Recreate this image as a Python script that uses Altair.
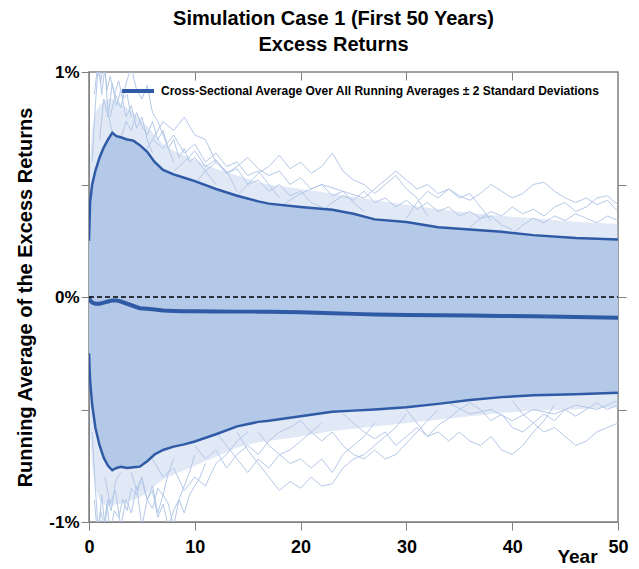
import altair as alt
import pandas as pd

# ---------------- data (values in %) ----------------
env_years = [0, 0.1, 0.3, 0.6, 1.0, 1.4, 1.8, 2.2, 2.6, 3.0, 3.6, 4.2, 4.8, 5.5, 6.2,
             7.0, 8.0, 9.0, 10, 12, 14, 16, 17, 20, 23, 25, 27, 30, 33, 36, 39, 42, 46, 50]
upper_sd = [0.25, 0.42, 0.50, 0.56, 0.62, 0.665, 0.70, 0.73, 0.715, 0.71, 0.70, 0.695, 0.675,
            0.645, 0.60, 0.565, 0.545, 0.53, 0.515, 0.48, 0.45, 0.425, 0.415, 0.40, 0.388,
            0.37, 0.345, 0.333, 0.31, 0.30, 0.29, 0.275, 0.262, 0.255]
lower_sd = [-0.25, -0.37, -0.48, -0.58, -0.66, -0.715, -0.75, -0.77, -0.76, -0.755, -0.76,
            -0.757, -0.754, -0.73, -0.70, -0.68, -0.665, -0.655, -0.642, -0.61, -0.575,
            -0.555, -0.55, -0.53, -0.51, -0.505, -0.50, -0.49, -0.475, -0.458, -0.445,
            -0.437, -0.432, -0.425]
cross_mean = [0, -0.015, -0.025, -0.03, -0.03, -0.025, -0.02, -0.015, -0.015, -0.02, -0.03,
              -0.04, -0.05, -0.052, -0.056, -0.06, -0.062, -0.063, -0.063, -0.064, -0.065,
              -0.065, -0.066, -0.068, -0.072, -0.075, -0.078, -0.08, -0.081, -0.082, -0.084,
              -0.086, -0.089, -0.092]
# outer reach of the thinner part of the cloud of simulated paths
cloud_upper = [0.3, 0.6, 0.75, 0.82, 0.85, 0.87, 0.88, 0.88, 0.87, 0.86, 0.84, 0.82, 0.79,
               0.76, 0.72, 0.68, 0.65, 0.63, 0.61, 0.57, 0.54, 0.51, 0.50, 0.48, 0.46, 0.445,
               0.43, 0.41, 0.39, 0.375, 0.36, 0.35, 0.335, 0.325]
cloud_lower = [-0.3, -0.6, -0.75, -0.85, -0.9, -0.92, -0.93, -0.93, -0.92, -0.92, -0.91, -0.9,
               -0.89, -0.87, -0.84, -0.81, -0.79, -0.77, -0.75, -0.71, -0.67, -0.645, -0.64,
               -0.62, -0.595, -0.585, -0.575, -0.56, -0.545, -0.53, -0.515, -0.505, -0.5,
               -0.49]

# individual simulated running averages that stray outside the dense band
stray_paths = {
    "u1": ([0.3, 0.6, 0.9, 1.2, 1.5, 1.8, 2.1, 2.4],
           [0.6, 0.85, 1.05, 0.9, 1.02, 0.82, 0.75, 0.72]),
    "u2": ([1.0, 1.4, 1.8, 2.2, 2.6, 3.0, 3.5, 4.0, 4.5, 5.0, 5.5, 6.0],
           [0.7, 0.88, 0.8, 0.95, 0.85, 0.92, 0.8, 0.85, 0.75, 0.8, 0.7, 0.64]),
    "u3": ([3, 3.5, 4, 4.5, 5, 5.5, 6, 6.5, 7, 7.5, 8, 8.5, 9, 9.5, 10, 11, 12],
           [0.7, 0.78, 0.74, 0.82, 0.76, 0.72, 0.78, 0.7, 0.74, 0.66, 0.7, 0.62, 0.66, 0.6,
            0.62, 0.56, 0.5]),
    "u4": ([5, 6, 7, 8, 9, 10, 11, 12, 13, 14, 15, 16, 17, 18],
           [0.62, 0.7, 0.66, 0.72, 0.64, 0.68, 0.6, 0.64, 0.58, 0.6, 0.54, 0.56, 0.5, 0.44]),
    "u5": ([14, 15, 16, 17, 18, 19, 20, 21, 22, 23, 24, 25, 26, 27, 28, 29, 30, 31, 32],
           [0.45, 0.5, 0.55, 0.58, 0.63, 0.57, 0.6, 0.55, 0.58, 0.64, 0.56, 0.52, 0.5, 0.46,
            0.5, 0.54, 0.48, 0.44, 0.36]),
    "u6": ([18, 20, 22, 24, 26, 28, 29, 30, 31, 32, 33, 34, 35, 36, 37, 38],
           [0.4, 0.46, 0.5, 0.47, 0.44, 0.52, 0.56, 0.52, 0.48, 0.5, 0.46, 0.48, 0.44, 0.46,
            0.4, 0.34]),
    "u7": ([30, 31, 32, 33, 34, 35, 36, 37, 38, 39, 40, 41, 42, 43, 44, 45, 46, 47, 48, 49, 50],
           [0.35, 0.42, 0.47, 0.44, 0.48, 0.45, 0.43, 0.46, 0.5, 0.47, 0.44, 0.46, 0.5, 0.51,
            0.47, 0.44, 0.42, 0.44, 0.41, 0.43, 0.38]),
    "u8": ([36, 37, 38, 39, 40, 41, 42, 43, 44, 45, 46, 47, 48, 49, 50],
           [0.31, 0.35, 0.38, 0.36, 0.4, 0.37, 0.39, 0.36, 0.4, 0.42, 0.38, 0.40, 0.44, 0.45,
            0.41]),
    "u9": ([8, 9, 10, 11, 12, 13, 14, 15, 16, 17, 18, 19, 20, 21, 22],
           [0.56, 0.6, 0.65, 0.58, 0.61, 0.55, 0.57, 0.5, 0.52, 0.47, 0.50, 0.45, 0.47, 0.42,
            0.40]),
    "u10": ([0.5, 0.8, 1.1, 1.4, 1.7, 2.0, 2.4, 2.8, 3.2, 3.6, 4.0],
            [0.9, 1.02, 0.95, 1.05, 0.92, 0.98, 0.9, 0.96, 0.88, 0.9, 0.8]),
    "u11": ([2, 2.5, 3, 3.5, 4, 4.5, 5, 5.5, 6, 6.5, 7, 8],
            [0.8, 0.9, 0.84, 0.95, 1.02, 0.92, 0.88, 0.94, 0.82, 0.78, 0.72, 0.6]),
    "u12": ([10, 11, 12, 13, 14, 15, 16, 17, 18, 19, 20, 21, 22, 23, 24, 25, 26],
            [0.5, 0.56, 0.6, 0.55, 0.58, 0.62, 0.57, 0.54, 0.56, 0.5, 0.53, 0.48, 0.5, 0.45,
             0.47, 0.42, 0.38]),
    "u13": ([22, 23, 24, 25, 26, 27, 28, 29, 30, 31, 32, 33, 34, 35, 36, 37, 38, 39, 40],
            [0.38, 0.42, 0.45, 0.43, 0.47, 0.42, 0.44, 0.4, 0.43, 0.39, 0.42, 0.38, 0.4, 0.36,
             0.38, 0.35, 0.36, 0.32, 0.3]),
    "u14": ([40, 41, 42, 43, 44, 45, 46, 47, 48, 49, 50],
            [0.28, 0.32, 0.35, 0.33, 0.36, 0.34, 0.37, 0.35, 0.33, 0.36, 0.34]),
    "u15": ([6, 7, 8, 9, 10, 11, 12, 13, 14],
            [0.7, 0.78, 0.74, 0.8, 0.72, 0.7, 0.6, 0.56, 0.47]),
    "l1": ([0.3, 0.6, 0.9, 1.2, 1.5, 1.8, 2.1, 2.5, 3.0],
           [-0.6, -0.85, -1.05, -0.88, -1.02, -0.9, -0.95, -0.82, -0.78]),
    "l2": ([1.5, 2, 2.5, 3, 3.5, 4, 4.5, 5, 5.5, 6, 6.5, 7, 7.5, 8],
           [-0.8, -0.92, -0.86, -1.02, -0.9, -0.96, -0.84, -1.02, -0.9, -0.94, -0.85, -0.88,
            -0.78, -0.72]),
    "l3": ([4, 4.5, 5, 5.5, 6, 6.5, 7, 7.5, 8, 8.5, 9, 9.5, 10],
           [-0.78, -0.86, -0.8, -0.9, -0.84, -0.96, -0.88, -0.92, -1.02, -0.9, -0.84, -0.78,
            -0.7]),
    "l4": ([6, 7, 8, 9, 10, 11, 12, 13, 14, 15],
           [-0.72, -0.8, -0.76, -0.86, -0.8, -0.84, -0.74, -0.7, -0.64, -0.6]),
    "l5": ([14, 15, 16, 17, 18, 19, 20, 21, 22, 23, 24, 25, 26, 27, 28, 29, 30],
           [-0.6, -0.68, -0.74, -0.8, -0.86, -0.82, -0.85, -0.8, -0.84, -0.83, -0.76, -0.72,
            -0.7, -0.66, -0.62, -0.58, -0.52]),
    "l6": ([20, 21, 22, 23, 24, 25, 26, 27, 28, 29, 30, 31, 32, 33],
           [-0.55, -0.6, -0.64, -0.6, -0.66, -0.7, -0.72, -0.68, -0.72, -0.7, -0.65, -0.6,
            -0.55, -0.5]),
    "l7": ([30, 31, 32, 33, 34, 35, 36, 37, 38, 39, 40, 41, 42, 43, 44],
           [-0.5, -0.56, -0.62, -0.6, -0.64, -0.6, -0.64, -0.66, -0.62, -0.68, -0.7, -0.66,
            -0.6, -0.55, -0.48]),
    "l8": ([40, 41, 42, 43, 44, 45, 46, 47, 48, 49, 50],
           [-0.46, -0.52, -0.56, -0.6, -0.58, -0.62, -0.66, -0.64, -0.6, -0.58, -0.56]),
    "l9": ([10, 11, 12, 13, 14, 15, 16, 17, 18, 19, 20],
           [-0.66, -0.72, -0.68, -0.76, -0.7, -0.66, -0.7, -0.64, -0.6, -0.58, -0.55]),
    "l10": ([34, 36, 38, 40, 42, 44, 46, 48, 50],
            [-0.47, -0.52, -0.5, -0.55, -0.5, -0.52, -0.48, -0.5, -0.46]),
    "l11": ([0.5, 0.8, 1.1, 1.4, 1.7, 2.0, 2.4, 2.8, 3.2, 3.6, 4.0, 4.5, 5],
            [-0.9, -1.05, -0.95, -1.02, -0.92, -1.04, -0.95, -0.98, -0.9, -0.95, -0.85, -0.88,
             -0.8]),
    "l12": ([5, 5.5, 6, 6.5, 7, 7.5, 8, 8.5, 9, 9.5, 10, 10.5, 11],
            [-0.82, -0.9, -0.86, -0.98, -0.92, -1.02, -0.95, -0.9, -0.96, -0.88, -0.84, -0.8,
             -0.74]),
    "l13": ([16, 17, 18, 19, 20, 21, 22, 23, 24, 25, 26, 27],
            [-0.6, -0.66, -0.7, -0.74, -0.72, -0.76, -0.72, -0.78, -0.7, -0.66, -0.62, -0.56]),
    "l14": ([24, 25, 26, 27, 28, 29, 30, 31, 32, 33, 34, 35, 36],
            [-0.52, -0.56, -0.6, -0.63, -0.6, -0.66, -0.62, -0.58, -0.62, -0.57, -0.54, -0.5,
             -0.47]),
    "l15": ([36, 37, 38, 39, 40, 41, 42, 43, 44, 45, 46, 47, 48, 49, 50],
            [-0.47, -0.5, -0.55, -0.52, -0.58, -0.6, -0.56, -0.52, -0.55, -0.5, -0.53, -0.5,
             -0.47, -0.5, -0.48]),
    "l16": ([12, 13, 14, 15, 16, 17, 18, 19, 20, 21, 22],
            [-0.6, -0.66, -0.72, -0.78, -0.72, -0.76, -0.7, -0.68, -0.64, -0.6, -0.56]),
}

x_ticks = [0, 10, 20, 30, 40, 50]
y_ticks = [-1, -0.5, 0, 0.5, 1]

LEGEND_TEXT = "Cross-Sectional Average Over All Running Averages \u00b1 2 Standard Deviations"
TITLE = ["Simulation Case 1 (First 50 Years)", "Excess Returns"]

# ---------------- tables ----------------
env = pd.DataFrame({"year": env_years, "upper": upper_sd, "lower": lower_sd,
                    "mean": cross_mean, "cu": cloud_upper, "cl": cloud_lower,
                    "series": LEGEND_TEXT})
rows = []
for name, (yrs, vals) in stray_paths.items():
    for yy, vv in zip(yrs, vals):
        rows.append({"path": name, "year": yy, "value": vv})
strays = pd.DataFrame(rows)
zero_df = pd.DataFrame({"v": [0]})

LIGHT = "#b4c8e8"
DARK = "#2f5aa6"
GRAY = "#808080"
FONT = "Liberation Sans"

xs = alt.Scale(domain=[0, 50], nice=False, zero=False)
ys = alt.Scale(domain=[-1, 1], nice=False)

x_bottom = alt.Axis(values=x_ticks, grid=False, tickSize=8, tickColor=GRAY, domainColor=GRAY,
                    labelFont=FONT, labelFontSize=18, labelFontWeight="bold", labelColor="black",
                    labelPadding=8, labelFlush=False, title="Year", titleFont=FONT,
                    titleFontSize=19, titleFontWeight="bold", titleColor="black",
                    titleX=488, titleY=44, titleAlign="center", titleBaseline="bottom")
y_left = alt.Axis(values=y_ticks, grid=False, tickSize=8, tickColor=GRAY, domainColor=GRAY,
                  labelFont=FONT, labelFontSize=17, labelFontWeight="bold", labelColor="black",
                  labelExpr="abs(datum.value) == 0.5 ? '' : datum.value + '%'",
                  labelPadding=2, title="Running Average of the Excess Returns",
                  titleFont=FONT, titleFontSize=20, titleFontWeight="bold", titleColor="black",
                  titlePadding=13)
x_top = alt.Axis(orient="top", values=[10, 20, 30, 40], grid=False, labels=False, tickSize=8,
                 tickColor=GRAY, domain=False, offset=-8, title=None)
y_right = alt.Axis(orient="right", values=[-0.5, 0, 0.5], grid=False, labels=False, tickSize=8,
                   tickColor=GRAY, domain=False, title=None)

cloud = alt.Chart(env).mark_area(color=LIGHT, opacity=0.4, clip=True).encode(
    x=alt.X("year:Q", scale=xs, axis=x_bottom),
    y=alt.Y("cu:Q", scale=ys, axis=y_left),
    y2="cl:Q",
)

band = alt.Chart(env).mark_area(color=LIGHT, clip=True).encode(
    x=alt.X("year:Q", scale=xs, axis=None),
    y=alt.Y("upper:Q", scale=ys, axis=None),
    y2="lower:Q",
)

stray_lines = alt.Chart(strays).mark_line(color=LIGHT, strokeWidth=1, clip=True).encode(
    x=alt.X("year:Q", scale=xs, axis=None),
    y=alt.Y("value:Q", scale=ys, axis=None),
    detail="path:N",
)

upper_line = alt.Chart(env).mark_line(color=DARK, strokeWidth=2.5, clip=True).encode(
    x=alt.X("year:Q", scale=xs, axis=None),
    y=alt.Y("upper:Q", scale=ys, axis=None),
)
lower_line = alt.Chart(env).mark_line(color=DARK, strokeWidth=2.5, clip=True).encode(
    x=alt.X("year:Q", scale=xs, axis=None),
    y=alt.Y("lower:Q", scale=ys, axis=None),
)
mean_line = alt.Chart(env).mark_line(strokeWidth=4, clip=True).encode(
    x=alt.X("year:Q", scale=xs, axis=None),
    y=alt.Y("mean:Q", scale=ys, axis=None),
    color=alt.Color("series:N", scale=alt.Scale(domain=[LEGEND_TEXT], range=[DARK]),
                    legend=alt.Legend(title=None, orient="none", legendX=31, legendY=1,
                                      symbolType="stroke", symbolSize=1024,
                                      symbolStrokeWidth=4, labelFont=FONT, labelFontSize=12,
                                      labelFontWeight="bold", labelColor="black",
                                      labelLimit=700, padding=0, labelOffset=5)),
)

zero_line = alt.Chart(zero_df).mark_rule(color="black", strokeWidth=1.5,
                                         strokeDash=[5, 3]).encode(
    y=alt.Y("v:Q", scale=ys, axis=y_right),
    x=alt.datum(0, scale=xs, axis=x_top),
    x2=alt.datum(50),
)

chart = alt.layer(cloud, band, stray_lines, upper_line, lower_line, mean_line,
                  zero_line).resolve_axis(
    x="independent", y="independent"
).properties(
    width=529, height=450,
    autosize=alt.AutoSizeParams(type="none"),
    padding={"left": 81, "top": 64, "right": 13, "bottom": 50},
    title=alt.TitleParams(TITLE, font=FONT, fontSize=20, fontWeight="bold", color="black",
                          anchor="middle", offset=8, lineHeight=26, dx=-20),
).configure_view(stroke=GRAY, strokeWidth=1.5)

chart.save("out.html", embed_options={"renderer": "svg", "actions": False})
